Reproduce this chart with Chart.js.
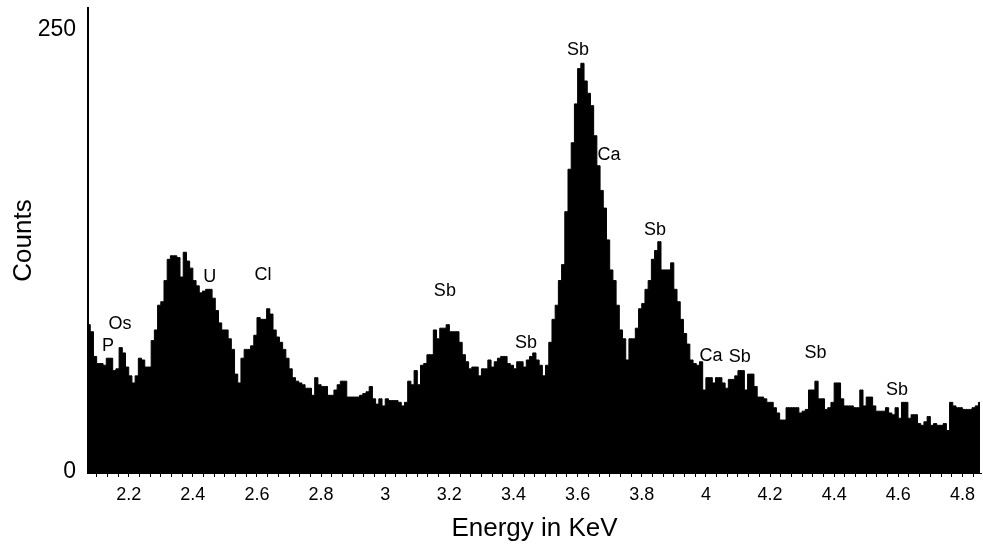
<!DOCTYPE html>
<html>
<head>
<meta charset="utf-8">
<script src="https://cdn.jsdelivr.net/npm/chart.js@4.4.1/dist/chart.umd.min.js"></script>
<style>
html, body { margin: 0; padding: 0; background: #fff; }
#wrap { width: 983px; height: 544px; }
</style>
</head>
<body>
<div id="wrap"><canvas id="c" width="983" height="544"></canvas></div>
<script>
// ---- data ----
const channelStart = 2.075;   // keV, centre of first channel
const channelWidth = 0.01;    // keV per channel
const counts = [
  84, 80, 66, 62, 62, 61, 65, 65, 58, 59,
  71, 68, 60, 55, 51, 55, 65, 64, 60, 60,
  75, 81, 95, 97, 109, 121, 123, 123, 122, 111,
  125, 120, 116, 109, 106, 102, 103, 104, 104, 99,
  92, 85, 81, 81, 76, 70, 56, 51, 65, 70,
  70, 72, 78, 88, 87, 87, 93, 90, 81, 77,
  74, 70, 65, 59, 54, 52, 51, 50, 48, 48,
  44, 54, 50, 49, 49, 44, 44, 47, 50, 52,
  52, 43, 43, 43, 43, 44, 45, 46, 49, 42,
  39, 42, 38, 42, 41, 41, 41, 40, 38, 40,
  52, 50, 58, 50, 61, 62, 67, 67, 81, 76,
  82, 82, 84, 80, 80, 80, 74, 67, 63, 59,
  60, 60, 55, 59, 59, 64, 60, 63, 65, 66,
  66, 62, 61, 59, 63, 63, 60, 64, 66, 68,
  64, 61, 55, 61, 74, 87, 95, 109, 118, 148,
  172, 187, 209, 229, 232, 222, 215, 208, 191, 174,
  160, 150, 132, 115, 109, 95, 81, 76, 64, 76,
  76, 82, 93, 96, 104, 109, 121, 126, 131, 115,
  115, 115, 119, 104, 97, 87, 79, 73, 64, 62,
  61, 63, 47, 54, 54, 51, 54, 54, 51, 48,
  53, 53, 55, 58, 58, 47, 56, 56, 49, 43,
  43, 42, 40, 40, 37, 34, 30, 30, 37, 37,
  37, 37, 34, 35, 36, 47, 47, 52, 42, 42,
  36, 37, 40, 51, 51, 42, 38, 38, 38, 37,
  37, 47, 38, 43, 43, 38, 35, 35, 35, 37,
  34, 33, 37, 31, 40, 40, 31, 33, 33, 28,
  27, 29, 32, 27, 28, 27, 27, 28, 24, 40,
  38, 37, 37, 36, 36, 36, 37, 38, 40
];

const xMin = 2.073, xMax = 4.858;
const yMin = 0, yMax = 263.3;

const xTickValues = [2.2, 2.4, 2.6, 2.8, 3.0, 3.2, 3.4, 3.6, 3.8, 4.0, 4.2, 4.4, 4.6, 4.8];
const xTickLabels = ['2.2', '2.4', '2.6', '2.8', '3', '3.2', '3.4', '3.6', '3.8', '4', '4.2', '4.4', '4.6', '4.8'];
const xMinorPerMajor = 6;
const yTickValues = [0, 250];
const yTickLabels = ['0', '250'];

const peakNames    = ['P',   'Os',   'U',   'Cl',   'Sb',  'Sb',  'Sb',  'Ca',  'Sb',  'Ca',  'Sb',  'Sb',  'Sb'];
const peakEnergies = [2.135, 2.1725, 2.453, 2.6185, 3.186, 3.439, 3.601, 3.698, 3.841, 4.016, 4.106, 4.342, 4.596];
const peakCounts   = [71.9,  84.4,   111,   112.1,  102.8, 73.6,  239.5, 180,   137.6, 66.3,  65.7,  67.7,  47];

// ---- build ----
const FONT = '"Liberation Sans", Arial, Helvetica, sans-serif';
Chart.defaults.font.family = FONT;
Chart.defaults.color = '#000';

const points = counts.map((c, i) => ({ x: channelStart + i * channelWidth, y: c }));

// tick positions: majors plus evenly spaced minors between them
const majorStep = xTickValues[1] - xTickValues[0];
const minorStep = majorStep / xMinorPerMajor;
const xTickPositions = [];
for (let k = -xMinorPerMajor; k <= (xTickValues.length - 1) * xMinorPerMajor + xMinorPerMajor; k++) {
  const v = xTickValues[0] + k * minorStep;
  if (v >= xMin - 1e-9 && v <= xMax + 1e-9) xTickPositions.push(v);
}

const peakLabelPlugin = {
  id: 'peakLabels',
  afterDatasetsDraw(chart) {
    const { ctx, scales: { x, y } } = chart;
    ctx.save();
    ctx.font = '18px ' + FONT;
    ctx.fillStyle = '#000';
    ctx.textAlign = 'center';
    ctx.textBaseline = 'middle';
    peakNames.forEach((name, i) => {
      ctx.fillText(name, x.getPixelForValue(peakEnergies[i]), y.getPixelForValue(peakCounts[i]));
    });
    ctx.restore();
  }
};

new Chart(document.getElementById('c'), {
  type: 'line',
  data: {
    datasets: [{
      data: points,
      stepped: 'middle',
      fill: 'origin',
      backgroundColor: '#000',
      borderColor: '#000',
      borderWidth: 1,
      pointRadius: 0,
      tension: 0
    }]
  },
  plugins: [peakLabelPlugin],
  options: {
    responsive: false,
    animation: false,
    devicePixelRatio: 1,
    layout: { padding: { top: 8, right: 2, left: 0, bottom: 0 } },
    plugins: { legend: { display: false }, tooltip: { enabled: false } },
    scales: {
      x: {
        type: 'linear',
        position: 'bottom',
        min: xMin,
        max: xMax,
        afterBuildTicks: (s) => { s.ticks = xTickPositions.map(v => ({ value: v })); },
        afterFit: (s) => { s.height = 71; s.paddingLeft = 0; s.paddingRight = 0; },
        grid: { drawOnChartArea: false, drawTicks: true, tickLength: 4, color: '#000', lineWidth: 1 },
        border: { display: true, color: '#000', width: 1 },
        ticks: {
          autoSkip: false, maxRotation: 0, minRotation: 0, padding: 7,
          font: { size: 18 }, color: '#000',
          callback: (v) => {
            const k = xTickValues.findIndex(t => Math.abs(t - v) < 1e-6);
            return k >= 0 ? xTickLabels[k] : '';
          }
        },
        title: { display: true, text: 'Energy in KeV', font: { size: 26 }, color: '#000', padding: { top: 0, bottom: 0 } }
      },
      y: {
        type: 'linear',
        min: yMin,
        max: yMax,
        afterBuildTicks: (s) => { s.ticks = yTickValues.map(v => ({ value: v })); },
        afterFit: (s) => { s.width = 88; s.paddingTop = 0; s.paddingBottom = 0; },
        grid: { display: false, drawTicks: false },
        border: { display: true, color: '#000', width: 2 },
        ticks: {
          padding: 12, labelOffset: -1.5, font: { size: 23 }, color: '#000',
          callback: (v) => {
            const k = yTickValues.indexOf(v);
            return k >= 0 ? yTickLabels[k] : '';
          }
        },
        title: { display: true, text: 'Counts', font: { size: 26 }, color: '#000', padding: { top: 8, bottom: 0 } }
      }
    }
  }
});
</script>
</body>
</html>
